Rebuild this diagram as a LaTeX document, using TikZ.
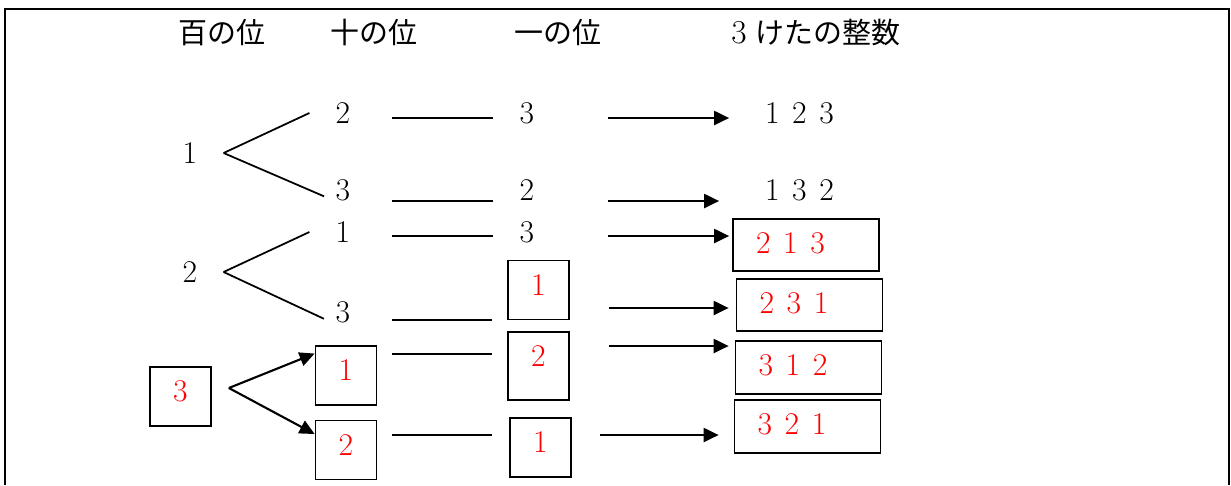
\documentclass[tikz,border=0pt]{standalone}
\usepackage{fontspec}
\newfontfamily\jpfont{Noto Sans CJK JP}
\usetikzlibrary{arrows.meta}
\newcommand\keta[3]{#1\hspace{0.4em}#2\hspace{0.4em}#3}

\begin{document}
\begin{tikzpicture}[x=0.02cm,y=-0.02cm,
    every node/.style={font=\fontsize{18pt}{20pt}\selectfont},
    head/.style={anchor=base,inner sep=0pt,font=\fontsize{16.5pt}{18pt}\selectfont},
    dig/.style={inner xsep=0.52cm,inner ysep=0pt,text height=0.41cm,text depth=0pt},
    numbox/.style={draw,line width=1pt,text=red,minimum width=1.22cm,inner xsep=0pt,
      inner ysep=0.28cm,text height=0.41cm,text depth=0.21cm},
    res/.style={draw,line width=1pt,text=red,inner xsep=0.46cm,text width=2cm,align=left,
      inner ysep=0.28cm,text height=0.41cm,text depth=0.08cm},
    resplain/.style={res,draw=none,text=black,inner xsep=0.7cm,text width=1.6cm},
    link/.style={line width=1pt},
    bar/.style={line width=1pt,shorten <=0.3cm},
    arr/.style={line width=1.2pt,-{Triangle[length=0.3cm,width=0.28cm]}}]
    \useasboundingbox (0,0) rectangle (1231,485);
    \draw[line width=1.2pt] (5,485) -- (5,9) -- (1229,9) -- (1229,485);

    \node[head] (hHun) at (222,43) {\jpfont 百の位};
    \node[head] (hTen) at (374,43) {\jpfont 十の位};
    \node[head] (hOne) at (558,43) {\jpfont 一の位};
    \node[head] (hNum) at (816,43) {{\fontsize{19pt}{20pt}\selectfont 3} {\jpfont けたの整数}};

    \node[dig] (h1) at (190,153) {1};
    \node[dig] (h2) at (190,272) {2};
    \node[numbox] (h3) at (180.5,396.5) {3};

    \node[dig] (t1) at (343,113) {2};
    \node[dig] (t2) at (343,190) {3};
    \node[dig] (t3) at (343,232) {1};
    \node[dig] (t4) at (343,312) {3};
    \node[numbox] (t5) at (346,375.5) {1};
    \node[numbox] (t6) at (346,450) {2};

    \node[dig] (o1) at (527,113) {3};
    \node[dig] (o2) at (527,190) {2};
    \node[dig] (o3) at (527,232) {3};
    \node[numbox] (o4) at (538.5,290) {1};
    \node[numbox,text depth=0.39cm] (o5) at (538.5,366) {2};
    \node[numbox] (o6) at (540.5,447.5) {1};

    \node[resplain] (r1) at (805,115) {\keta123};
    \node[resplain] (r2) at (805,192) {\keta132};
    \node[res] (r3) at (806,245) {\keta213};
    \node[res] (r4) at (809.5,305) {\keta231};
    \node[res] (r5) at (808.5,367.5) {\keta312};
    \node[res] (r6) at (807.5,426.5) {\keta321};

    \draw[link] (h1.east) -- (t1.west);
    \draw[link,shorten >=-0.32cm] (h1.east) -- (t2.west);
    \draw[link] (h2.east) -- (t3.west);
    \draw[link,shorten >=-0.32cm] (h2.east) -- (t4.west);
    \coordinate (fork) at ([xshift=0.34cm,yshift=0.17cm]h3.east);
    \draw[arr] (fork) -- (t5.145);
    \draw[arr] (fork) -- (t6.153);

    \coordinate (y1) at (0,118);
    \coordinate (y2) at (0,201);
    \coordinate (y3) at (0,236);
    \coordinate (y4) at (0,320);
    \coordinate (y5) at (0,354);
    \coordinate (y6) at (0,435);
    \coordinate (a4) at (0,308);
    \coordinate (a5) at (0,346);

    \draw[bar] (t1.east |- y1) -- (o1.west |- y1);
    \draw[bar] (t2.east |- y2) -- (o2.west |- y2);
    \draw[bar] (t3.east |- y3) -- (o3.west |- y3);
    \draw[bar,shorten >=0.3cm] (t4.east |- y4) -- (o4.west |- y4);
    \draw[bar,shorten >=0.3cm] (t5.east |- y5) -- (o5.west |- y5);
    \draw[bar,shorten >=0.34cm] (t6.east |- y6) -- (o6.west |- y6);

    \draw[arr,shorten <=0.94cm] (o1.east |- y1) -- (r1.west |- y1);
    \draw[arr,shorten <=0.94cm,shorten >=0.2cm] (o2.east |- y2) -- (r2.west |- y2);
    \draw[arr,shorten <=0.94cm,shorten >=0.06cm] (o3.east |- y3) -- (r3.west |- y3);
    \draw[arr,shorten <=0.78cm,shorten >=0.14cm] (o4.east |- a4) -- (r4.west |- a4);
    \draw[arr,shorten <=0.78cm,shorten >=0.12cm] (o5.east |- a5) -- (r5.west |- a5);
    \draw[arr,shorten <=0.56cm,shorten >=0.3cm] (o6.east |- y6) -- (r6.west |- y6);
  \end{tikzpicture}
\end{document}
